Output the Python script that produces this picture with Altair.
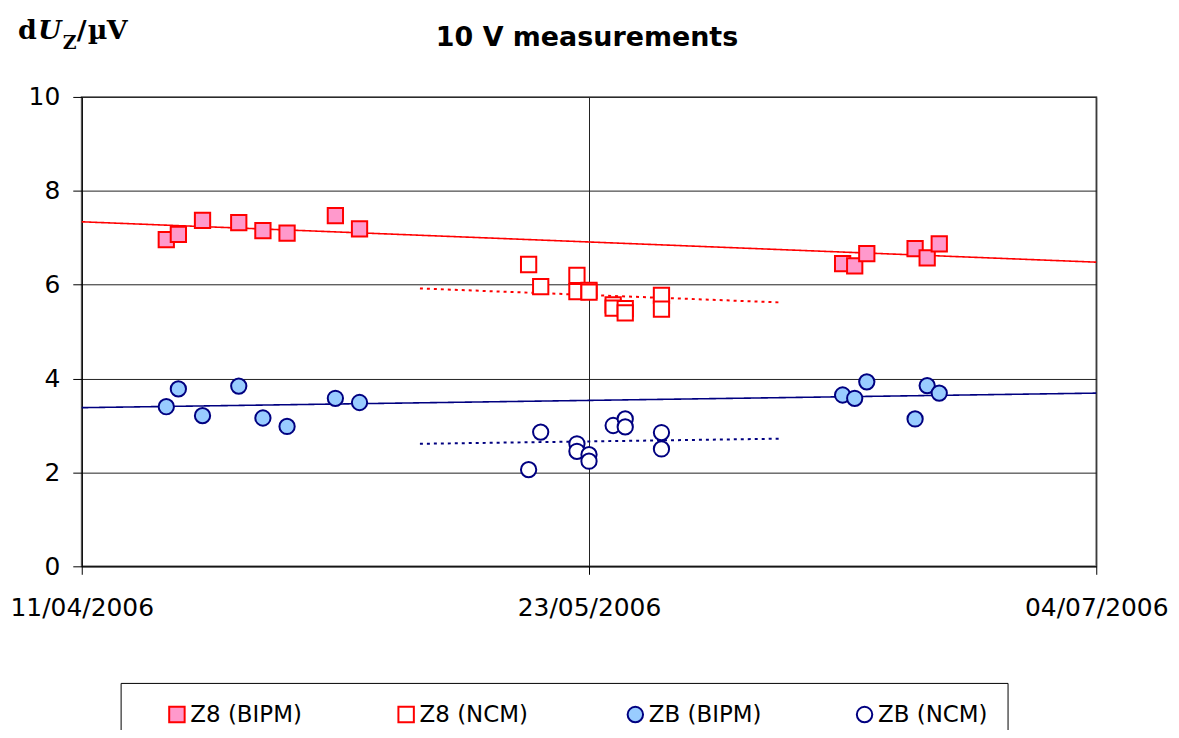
import altair as alt
import pandas as pd

# ---------------- data ----------------
series_names = ["Z8 (BIPM)", "Z8 (NCM)", "ZB (BIPM)", "ZB (NCM)"]

z8_bipm_dates = ["2006-04-18", "2006-04-19", "2006-04-21", "2006-04-24", "2006-04-26", "2006-04-28",
                 "2006-05-02", "2006-05-04", "2006-06-13", "2006-06-14", "2006-06-15", "2006-06-19",
                 "2006-06-20", "2006-06-21"]
z8_bipm_vals = [6.96, 7.07, 7.37, 7.32, 7.15, 7.10, 7.47, 7.19, 6.45, 6.40, 6.66, 6.77, 6.57, 6.87]

zb_bipm_dates = z8_bipm_dates
zb_bipm_vals = [3.40, 3.78, 3.21, 3.84, 3.16, 2.98, 3.58, 3.49, 3.65, 3.58, 3.93, 3.14, 3.85, 3.69]

z8_ncm_dates = ["2006-05-18", "2006-05-19", "2006-05-22", "2006-05-22", "2006-05-23", "2006-05-23",
                "2006-05-25", "2006-05-25", "2006-05-26", "2006-05-26", "2006-05-29", "2006-05-29"]
z8_ncm_vals = [6.43, 5.96, 6.20, 5.85, 5.88, 5.84, 5.57, 5.50, 5.49, 5.40, 5.77, 5.48]

zb_ncm_dates = ["2006-05-18", "2006-05-19", "2006-05-22", "2006-05-22", "2006-05-23", "2006-05-23",
                "2006-05-25", "2006-05-26", "2006-05-26", "2006-05-29", "2006-05-29"]
zb_ncm_vals = [2.06, 2.86, 2.61, 2.45, 2.38, 2.24, 3.00, 3.14, 2.97, 2.85, 2.50]

# trend lines (start/end of each line)
trend_series = ["Z8 (BIPM)", "ZB (BIPM)", "Z8 (NCM)", "ZB (NCM)"]
trend_start_dates = ["2006-04-11", "2006-04-11", "2006-05-09", "2006-05-09"]
trend_end_dates = ["2006-07-04", "2006-07-04", "2006-06-08", "2006-06-08"]
trend_start_vals = [7.34, 3.38, 5.92, 2.61]
trend_end_vals = [6.48, 3.69, 5.62, 2.72]

x_tick_dates = [(2006, 4, 11), (2006, 5, 23), (2006, 7, 4)]
y_ticks = [0, 2, 4, 6, 8, 10]

chart_title = "10 V measurements"

# ---------------- tables ----------------
rows = []
for name, ds, vs in [("Z8 (BIPM)", z8_bipm_dates, z8_bipm_vals),
                     ("Z8 (NCM)", z8_ncm_dates, z8_ncm_vals),
                     ("ZB (BIPM)", zb_bipm_dates, zb_bipm_vals),
                     ("ZB (NCM)", zb_ncm_dates, zb_ncm_vals)]:
    for d, v in zip(ds, vs):
        rows.append({"series": name, "date": d, "value": v})
pts = pd.DataFrame(rows)

trows = []
for s, d0, d1, v0, v1 in zip(trend_series, trend_start_dates, trend_end_dates, trend_start_vals, trend_end_vals):
    trows.append({"trend": s, "date": d0, "value": v0})
    trows.append({"trend": s, "date": d1, "value": v1})
trend = pd.DataFrame(trows)

ticks_dt = [alt.DateTime(year=y, month=m, date=d, utc=True) for (y, m, d) in x_tick_dates]

FONT = "DejaVu Sans"
x_enc = alt.X("date:T",
              scale=alt.Scale(type="utc", domain=[ticks_dt[0], ticks_dt[-1]], nice=False),
              axis=alt.Axis(values=ticks_dt, format="%d/%m/%Y", title=None, grid=True,
                            tickSize=8, labelPadding=21, labelFlush=False, labelOverlap=False,
                            labelBound=False, labelFont=FONT, labelFontSize=25, labelColor="black"))
y_enc = alt.Y("value:Q",
              scale=alt.Scale(domain=[0, 10], nice=False),
              axis=alt.Axis(values=y_ticks, title=None, grid=True, tickSize=9, labelPadding=13,
                            labelFont=FONT, labelFontSize=25, labelColor="black"))

trend_styles = {
    "Z8 (BIPM)": ("#FF0000", [1, 0]),
    "ZB (BIPM)": ("#000080", [1, 0]),
    "Z8 (NCM)": ("#FF0000", [3, 4]),
    "ZB (NCM)": ("#000080", [3, 4]),
}
line_layers = []
for s in trend_series:
    col, dash = trend_styles[s]
    lc = alt.Chart(trend).transform_filter(alt.datum.trend == s).mark_line(
        color=col, strokeWidth=1.6 if dash == [1, 0] else 2, strokeDash=dash
    ).encode(x=x_enc, y=y_enc)
    line_layers.append(lc)

legend = alt.Legend(title=None, orient="none", legendX=39, legendY=588, direction="horizontal",
                    columns=4, gridAlign="all", columnPadding=66, strokeColor="#000000",
                    padding=20, symbolOffset=25, labelFont=FONT, labelFontSize=23,
                    labelColor="black", symbolSize=240, symbolStrokeWidth=2, labelOffset=2)

points = alt.Chart(pts).mark_point(size=235, strokeWidth=2, opacity=1, filled=False).encode(
    x=x_enc, y=y_enc,
    shape=alt.Shape("series:N", scale=alt.Scale(domain=series_names,
                                                range=["square", "square", "circle", "circle"]),
                    legend=legend),
    stroke=alt.Stroke("series:N", scale=alt.Scale(domain=series_names,
                                                  range=["#FF0000", "#FF0000", "#000080", "#000080"]),
                      legend=legend),
    fill=alt.Fill("series:N", scale=alt.Scale(domain=series_names,
                                              range=["#FF99CC", "#FFFFFF", "#99CCFF", "#FFFFFF"]),
                  legend=legend),
    order=alt.Order("series:N"),
)

# text pieces: y-axis title "dU_Z/µV" and chart title
def ttext(txt, x, y, size, style="normal", font="DejaVu Serif", align="left"):
    return alt.Chart(pd.DataFrame({"t": [txt]})).mark_text(
        align=align, baseline="alphabetic", font=font, fontSize=size,
        fontWeight="bold", fontStyle=style, color="black"
    ).encode(x=alt.value(x), y=alt.value(y), text="t:N")

texts = [ttext("d", -64, -58, 27), ttext("U", -44, -58, 27, "italic"),
         ttext("Z", -19, -48, 19), ttext("/", -5, -58, 27), ttext("µ", 6, -58, 27),
         ttext("V", 25, -58, 27),
         ttext(chart_title, 507, -51, 27, font=FONT, align="center")]

chart = alt.layer(*line_layers, points, *texts).properties(
    width=1018, height=471,
    background="white",
    autosize=alt.AutoSizeParams(type="none"),
    padding={"left": 74, "top": 88, "right": 75, "bottom": 163},
).configure_view(stroke="#888888", strokeWidth=2).configure_axis(
    gridColor="#222222", gridWidth=1, gridOpacity=1, domainColor="#000000", domainWidth=1,
    tickColor="#000000", tickWidth=1, labelColor="#000000", labelFont=FONT, labelFontSize=25
)

chart.save("out.html", embed_options={"renderer": "svg", "actions": False})
